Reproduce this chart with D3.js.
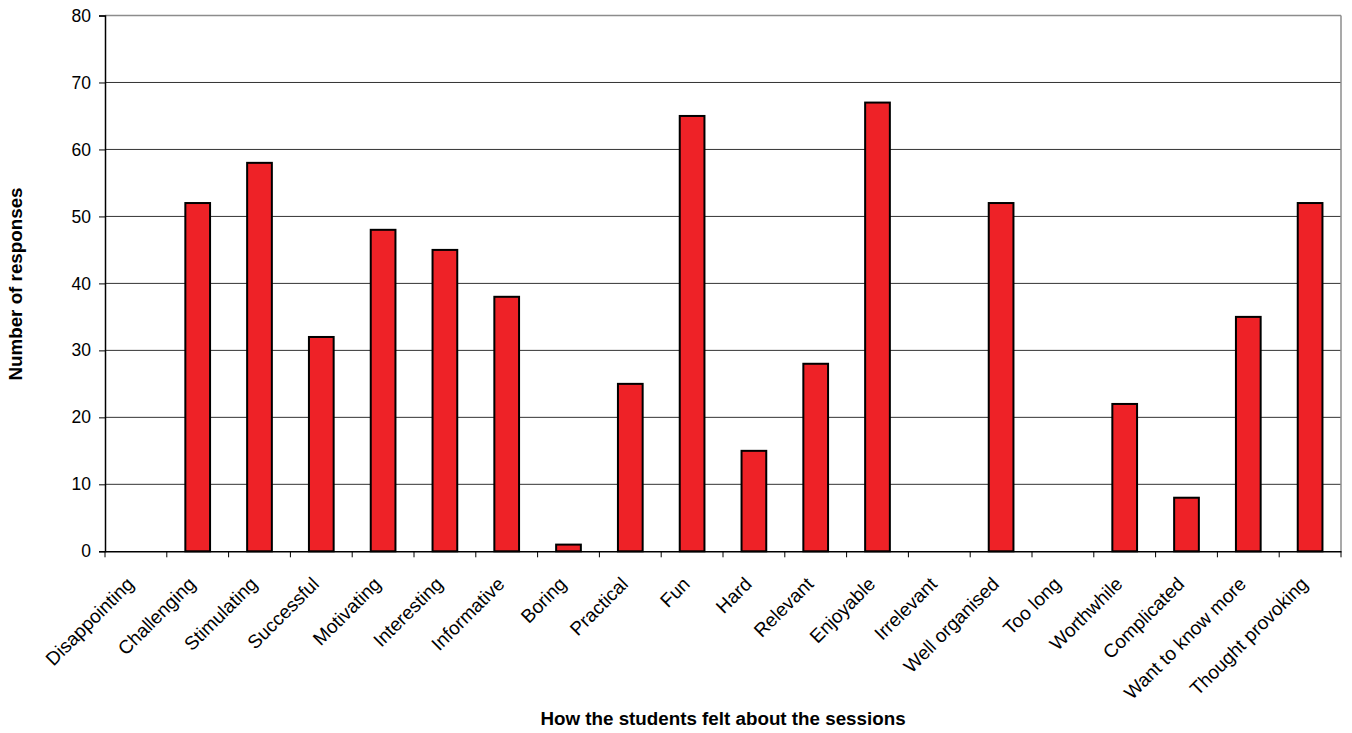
<!DOCTYPE html>
<html>
<head>
<meta charset="utf-8">
<script src="https://cdn.jsdelivr.net/npm/d3@7"></script>
<style>
  html, body { margin: 0; padding: 0; background: #fff; }
  svg { display: block; font-family: "Liberation Sans", Arial, sans-serif; }
</style>
</head>
<body>
<svg id="chart" width="1352" height="733"></svg>
<script>
const categories = ["Disappointing", "Challenging", "Stimulating", "Successful", "Motivating",
  "Interesting", "Informative", "Boring", "Practical", "Fun", "Hard", "Relevant", "Enjoyable",
  "Irrelevant", "Well organised", "Too long", "Worthwhile", "Complicated", "Want to know more",
  "Thought provoking"];
const responses = [0, 52, 58, 32, 48, 45, 38, 1, 25, 65, 15, 28, 67, 0, 52, 0, 22, 8, 35, 52];
const yTicks = [0, 10, 20, 30, 40, 50, 60, 70, 80];
const xTitle = "How the students felt about the sessions";
const yTitle = "Number of responses";

(function () {
const svg = d3.select("#chart");
const pLeft = 105, pRight = 1341, pTop = 15.5, pBottom = 551.3;

const x = d3.scaleBand().domain(categories).range([pLeft, pRight]).padding(0);
const y = d3.scaleLinear().domain([0, 80]).range([pBottom, pTop]);

// gridlines
svg.append("g").selectAll("line")
  .data(yTicks.filter(t => t > 0 && t < 80))
  .join("line")
  .attr("x1", pLeft).attr("x2", pRight)
  .attr("y1", d => y(d)).attr("y2", d => y(d))
  .attr("stroke", "#333").attr("stroke-width", 1);

// top and right border
svg.append("line").attr("x1", pLeft).attr("x2", pRight).attr("y1", y(80)).attr("y2", y(80))
  .attr("stroke", "#8c8c8c").attr("stroke-width", 1.5);
svg.append("line").attr("x1", pRight).attr("x2", pRight).attr("y1", y(80)).attr("y2", y(0))
  .attr("stroke", "#8c8c8c").attr("stroke-width", 1.5);

// bars
const bw = x.bandwidth() * 0.4;
svg.append("g").selectAll("rect")
  .data(categories.map((c, i) => ({ c, v: responses[i] })).filter(d => d.v > 0))
  .join("rect")
  .attr("x", d => x(d.c) + (x.bandwidth() - bw) / 2)
  .attr("width", bw)
  .attr("y", d => y(d.v))
  .attr("height", d => y(0) - y(d.v))
  .attr("fill", "#ee2227")
  .attr("stroke", "#000")
  .attr("stroke-width", 2);

// y axis
const yAxis = d3.axisLeft(y).tickValues(yTicks).tickSize(6).tickPadding(8);
const gy = svg.append("g").attr("transform", `translate(${pLeft},0)`).call(yAxis);
gy.select(".domain").attr("stroke", "#000").attr("stroke-width", 1.5);
gy.selectAll(".tick line").attr("stroke", "#000").attr("stroke-width", 1);
gy.selectAll(".tick text").attr("font-size", "17.5px").attr("fill", "#000")
  .attr("font-family", "'Liberation Sans', Arial, sans-serif");

// x axis
const xAxis = d3.axisBottom(x).tickSize(0).tickFormat("");
const gx = svg.append("g").attr("transform", `translate(0,${pBottom})`).call(xAxis);
gx.select(".domain").attr("stroke", "#000").attr("stroke-width", 1.5);
gx.selectAll(".tick").remove();
// tick marks at band boundaries
const bounds = categories.map(c => x(c)).concat([pRight]);
svg.append("g").selectAll("line").data(bounds).join("line")
  .attr("x1", d => d).attr("x2", d => d)
  .attr("y1", pBottom).attr("y2", pBottom + 6)
  .attr("stroke", "#000").attr("stroke-width", 1);

// category labels
svg.append("g").selectAll("text").data(categories).join("text")
  .attr("transform", d => `translate(${x(d) + x.bandwidth() / 2 - 1},${pBottom + 34}) rotate(-45)`)
  .attr("text-anchor", "end")
  .attr("font-size", "19px")
  .attr("fill", "#000")
  .text(d => d);

// axis titles
svg.append("text")
  .attr("x", (539 + 907) / 2).attr("y", 725)
  .attr("text-anchor", "middle")
  .attr("font-size", "18.8px").attr("font-weight", "bold")
  .text(xTitle);

svg.append("text")
  .attr("transform", `translate(22,284) rotate(-90)`)
  .attr("text-anchor", "middle")
  .attr("font-size", "18.8px").attr("font-weight", "bold")
  .text(yTitle);
})();
</script>
</body>
</html>
